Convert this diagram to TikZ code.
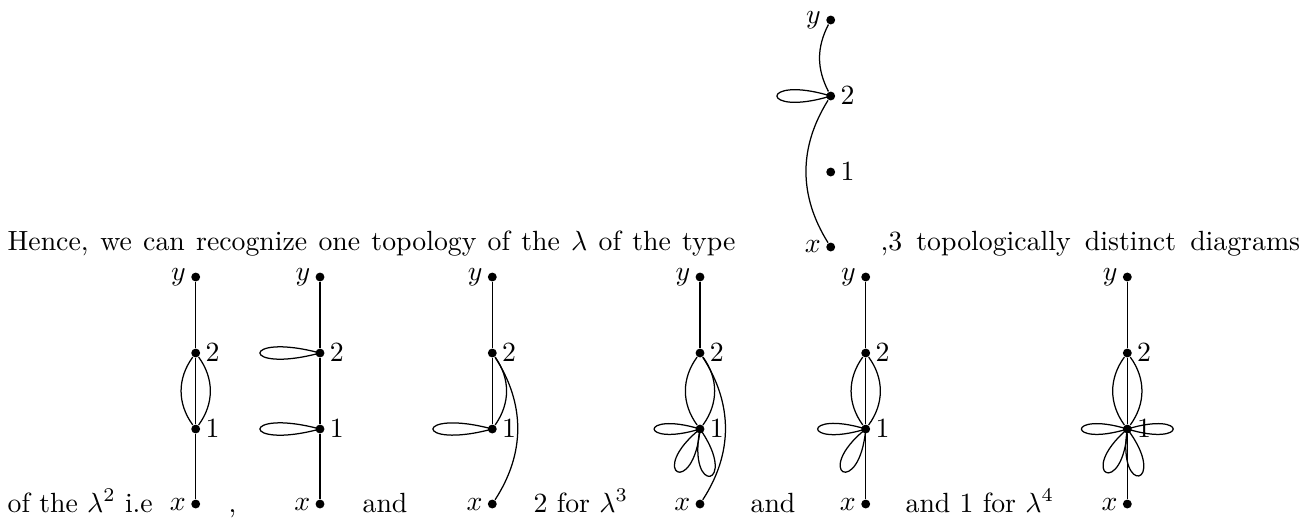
\documentclass[tikz,border=0pt]{standalone}
\begin{document}
\begin{tikzpicture}[x=0.36pt,y=0.36pt,
  dot/.style={circle, fill=black, inner sep=0pt, minimum size=3.2pt},
  lab/.style={inner sep=1.5pt},
  txt/.style={anchor=base west, inner sep=0pt},
  every label/.style={lab},
  line width=0.45pt]
\useasboundingbox (0,0) rectangle (1306,-523);
% ---------- text ----------
\node[txt] (t1) at (7,-250) {\makebox[262pt][s]{Hence, we can recognize one topology of the $\lambda$ of the type}};
\node[txt] (t2) at (880,-250) {\makebox[151pt][s]{,3 topologically distinct diagrams}};
\node[txt] (b1) at (7,-512) {of the $\lambda^2$ i.e};
\node[txt] (b2) at (228,-512) {,};
\node[txt] (b3) at (362,-512) {and};
\node[txt] (b4) at (533,-512) {2 for $\lambda^3$};
\node[txt] (b5) at (750,-512) {and};
\node[txt] (b6) at (905,-512) {and 1 for $\lambda^4$};
% ---------- top diagram ----------
\node[dot,label=left:$y$] (Ty) at (830.7,-20) {};
\node[dot,label=right:$2$] (T2) at (830.7,-96) {};
\node[dot,label=right:$1$] (T1) at (830.7,-172) {};
\node[dot,label=left:$x$] (Tx) at (830.7,-247) {};
\draw (Ty) to[bend right=27] (T2);
\draw (T2) to[bend right=32] (Tx);
\draw (T2.center) .. controls +(163:75) and +(197:75) .. (T2.center);
% ---------- diagram A ----------
\node[dot,label=left:$y$] (Ay) at (195.7,-277) {};
\node[dot,label=right:$2$] (A2) at (195.7,-353) {};
\node[dot,label=right:$1$] (A1) at (195.7,-429) {};
\node[dot,label=left:$x$] (Ax) at (195.7,-504) {};
\draw (Ay) -- (A2) -- (A1) -- (Ax);
\draw (A2) to[bend left=36] (A1);
\draw (A2) to[bend right=36] (A1);
% ---------- diagram B ----------
\node[dot,label=left:$y$] (By) at (320,-277) {};
\node[dot,label=right:$2$] (B2) at (320,-353) {};
\node[dot,label=right:$1$] (B1) at (320,-429) {};
\node[dot,label=left:$x$] (Bx) at (320,-504) {};
\draw (By) -- (B2) -- (B1) -- (Bx);
\draw (B2.center) .. controls +(165:83) and +(195:83) .. (B2.center);
\draw (B1.center) .. controls +(165:83) and +(195:83) .. (B1.center);
% ---------- diagram C ----------
\node[dot,label=left:$y$] (Cy) at (492.3,-277) {};
\node[dot,label=right:$2$] (C2) at (492.3,-353) {};
\node[dot,label=right:$1$] (C1) at (492.3,-429) {};
\node[dot,label=left:$x$] (Cx) at (492.3,-504) {};
\draw (Cy) -- (C2) -- (C1);
\draw (C2) to[bend left=35] (C1);
\draw (C2) to[bend left=33] (Cx);
\draw (C1.center) .. controls +(165:82) and +(195:82) .. (C1.center);
% ---------- diagram D ----------
\node[dot,label=left:$y$] (Dy) at (700,-277) {};
\node[dot,label=right:$2$] (D2) at (700,-353) {};
\node[dot,label=right:$1$] (D1) at (700,-429) {};
\node[dot,label=left:$x$] (Dx) at (700,-504) {};
\draw (Dy) -- (D2);
\draw (D2) to[bend left=36] (D1);
\draw (D2) to[bend right=36] (D1);
\draw (D2) to[bend left=33] (Dx);
\draw (D1.center) .. controls +(163:64) and +(197:64) .. (D1.center);
\draw (D1.center) .. controls +(219:70) and +(265:70) .. (D1.center);
\draw (D1.center) .. controls +(259:70) and +(305:70) .. (D1.center);
% ---------- diagram E ----------
\node[dot,label=left:$y$] (Ey) at (865.7,-277) {};
\node[dot,label=right:$2$] (E2) at (865.7,-353) {};
\node[dot,label=right:$1$] (E1) at (865.7,-429) {};
\node[dot,label=left:$x$] (Ex) at (865.7,-504) {};
\draw (Ey) -- (E2) -- (E1) -- (Ex);
\draw (E2) to[bend left=36] (E1);
\draw (E2) to[bend right=36] (E1);
\draw (E1.center) .. controls +(163:67) and +(197:67) .. (E1.center);
\draw (E1.center) .. controls +(219:70) and +(265:70) .. (E1.center);
% ---------- diagram F ----------
\node[dot,label=left:$y$] (Fy) at (1127.3,-277) {};
\node[dot,label=right:$2$] (F2) at (1127.3,-353) {};
\node[dot,label=right:$1$] (F1) at (1127.3,-429) {};
\node[dot,label=left:$x$] (Fx) at (1127.3,-504) {};
\draw (Fy) -- (F2) -- (F1) -- (Fx);
\draw (F2) to[bend left=36] (F1);
\draw (F2) to[bend right=36] (F1);
\draw (F1.center) .. controls +(163:64) and +(197:64) .. (F1.center);
\draw (F1.center) .. controls +(-17:64) and +(17:64) .. (F1.center);
\draw (F1.center) .. controls +(221:70) and +(267:70) .. (F1.center);
\draw (F1.center) .. controls +(261:70) and +(307:70) .. (F1.center);
\end{tikzpicture}
\end{document}
